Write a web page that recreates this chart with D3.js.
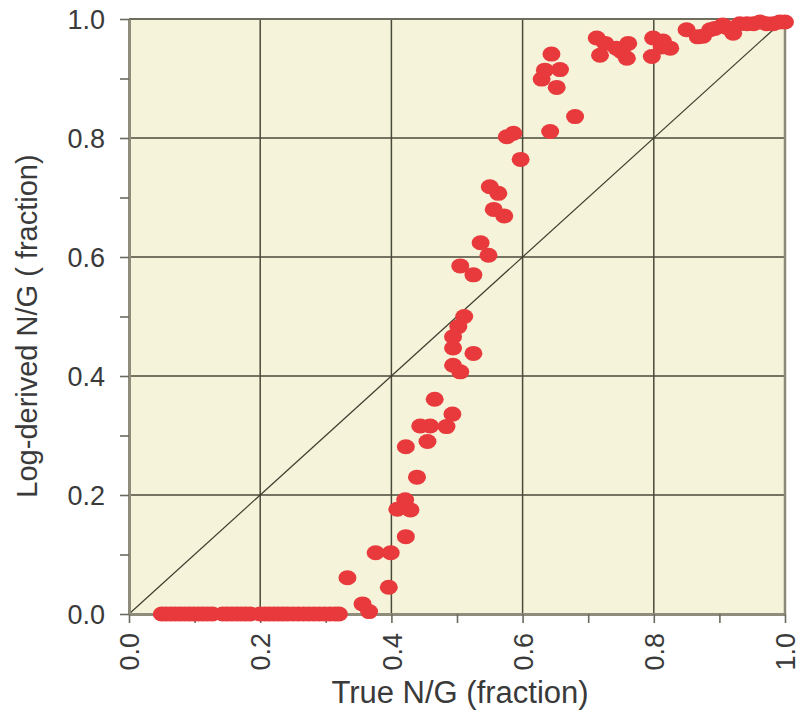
<!DOCTYPE html>
<html>
<head>
<meta charset="utf-8">
<script src="https://cdn.jsdelivr.net/npm/d3@7"></script>
<style>
  html, body { margin: 0; padding: 0; background: #ffffff; }
  svg { display: block; font-family: "Liberation Sans", Arial, Helvetica, sans-serif; }
</style>
</head>
<body>
<svg id="chart" width="802" height="716"></svg>
<script>
// ---- data ----
const zeroRowX = [0.05,0.057,0.064,0.071,0.078,0.085,0.092,0.099,0.106,0.113,0.12,0.127,
  0.143,0.15,0.157,0.164,0.171,0.178,0.185,
  0.2,0.207,0.214,0.221,0.228,0.235,0.242,0.25,0.258,0.266,0.274,0.282,0.29,0.298,0.306,0.314,0.32];
const trueNG = [0.333,0.356,0.366,0.376,0.399,0.396,0.422,0.421,0.409,0.429,0.439,0.422,0.455,
  0.444,0.459,0.484,0.493,0.466,0.505,0.494,0.525,0.494,0.494,0.502,0.511,0.525,0.505,0.548,
  0.536,0.572,0.556,0.563,0.550,0.597,0.576,0.586,0.642,0.680,0.652,0.629,0.634,0.657,0.644,
  0.713,0.726,0.718,0.743,0.751,0.761,0.759,0.799,0.812,0.797,0.825,0.814,0.850,0.867,0.875,
  0.886,0.893,0.905,0.911,0.921,0.931,0.942,0.952,0.962,0.972,0.982,0.992,1.0];
const logNG = [0.061,0.017,0.004,0.103,0.103,0.045,0.130,0.192,0.176,0.175,0.230,0.281,0.290,
  0.316,0.316,0.315,0.336,0.361,0.407,0.418,0.438,0.447,0.466,0.483,0.500,0.570,0.585,0.603,
  0.624,0.669,0.680,0.707,0.718,0.764,0.802,0.808,0.811,0.836,0.885,0.899,0.914,0.915,0.941,
  0.968,0.959,0.939,0.951,0.945,0.959,0.934,0.968,0.953,0.937,0.951,0.963,0.982,0.970,0.971,
  0.982,0.984,0.990,0.986,0.976,0.992,0.992,0.992,0.995,0.992,0.992,0.995,0.995];
const tickValues = [0,0.1,0.2,0.3,0.4,0.5,0.6,0.7,0.8,0.9,1.0];
const gridValues = [0.2,0.4,0.6,0.8];
const xTitle = "True N/G (fraction)";
const yTitle = "Log-derived N/G ( fraction)";

const points = zeroRowX.map(x => ({x: x, y: 0}))
  .concat(trueNG.map((x, i) => ({x: x, y: logNG[i]})));

// ---- layout ----
const W = 802, H = 716;
const margin = {left: 129, right: 17, top: 19, bottom: 102};
const svg = d3.select("#chart");
const x = d3.scaleLinear().domain([0, 1]).range([margin.left, W - margin.right]);
const y = d3.scaleLinear().domain([0, 1]).range([H - margin.bottom, margin.top]);

// background
svg.append("rect")
  .attr("x", x(0)).attr("y", y(1))
  .attr("width", x(1) - x(0)).attr("height", y(0) - y(1))
  .attr("fill", "#f5f3d9");

// grid
const grid = svg.append("g");
grid.selectAll("line.v").data(gridValues).join("line")
  .attr("x1", d => x(d)).attr("x2", d => x(d))
  .attr("y1", y(0)).attr("y2", y(1))
  .attr("stroke", "#4a4a3a").attr("stroke-width", 1.5);
grid.selectAll("line.h").data(gridValues).join("line")
  .attr("y1", d => y(d)).attr("y2", d => y(d))
  .attr("x1", x(0)).attr("x2", x(1))
  .attr("stroke", "#4a4a3a").attr("stroke-width", 1.5);

// diagonal 1:1
svg.append("line")
  .attr("x1", x(0)).attr("y1", y(0)).attr("x2", x(1)).attr("y2", y(1))
  .attr("stroke", "#3e3e30").attr("stroke-width", 1.2);

// frame top/right
svg.append("line").attr("x1", x(0)).attr("x2", x(1)).attr("y1", y(1)).attr("y2", y(1))
  .attr("stroke", "#6f6d5e").attr("stroke-width", 2);
svg.append("line").attr("x1", x(1)).attr("x2", x(1)).attr("y1", y(0)).attr("y2", y(1))
  .attr("stroke", "#8a8876").attr("stroke-width", 2.5);

// axes
const fmt = d => (Math.round(d * 10) % 2 === 0) ? d.toFixed(1) : "";
const xAxis = svg.append("g").attr("transform", `translate(0,${y(0)})`)
  .call(d3.axisBottom(x).tickValues(tickValues).tickFormat(fmt).tickSize(9).tickSizeOuter(0));
const yAxis = svg.append("g").attr("transform", `translate(${x(0)},0)`)
  .call(d3.axisLeft(y).tickValues(tickValues).tickFormat(fmt).tickSize(9).tickSizeOuter(0));

[xAxis, yAxis].forEach(g => {
  g.select(".domain").attr("stroke", "#8e8c7a").attr("stroke-width", 3);
  g.selectAll(".tick line").attr("stroke", "#6a6a60").attr("stroke-width", 1.6);
  g.selectAll(".tick text").attr("fill", "#3a3a3a").attr("font-size", 27)
    .attr("font-family", "'Liberation Sans', Arial, sans-serif");
});
yAxis.selectAll(".tick text").attr("x", -24).attr("dy", "0.36em");
xAxis.selectAll(".tick text")
  .attr("transform", "rotate(-90)")
  .attr("text-anchor", "end")
  .attr("x", -19).attr("y", 0).attr("dy", "0.36em");

// titles
svg.append("text")
  .attr("x", 460).attr("y", 703)
  .attr("text-anchor", "middle")
  .attr("font-size", 31).attr("fill", "#3a3a3a")
  .text(xTitle);
svg.append("text")
  .attr("transform", `translate(37,${326}) rotate(-90)`)
  .attr("text-anchor", "middle")
  .attr("font-size", 29).attr("fill", "#3a3a3a")
  .text(yTitle);

// points
svg.append("g").selectAll("ellipse").data(points).join("ellipse")
  .attr("cx", d => x(d.x)).attr("cy", d => y(d.y))
  .attr("rx", 9).attr("ry", 7.5)
  .attr("fill", "#e8393c");
</script>
</body>
</html>
